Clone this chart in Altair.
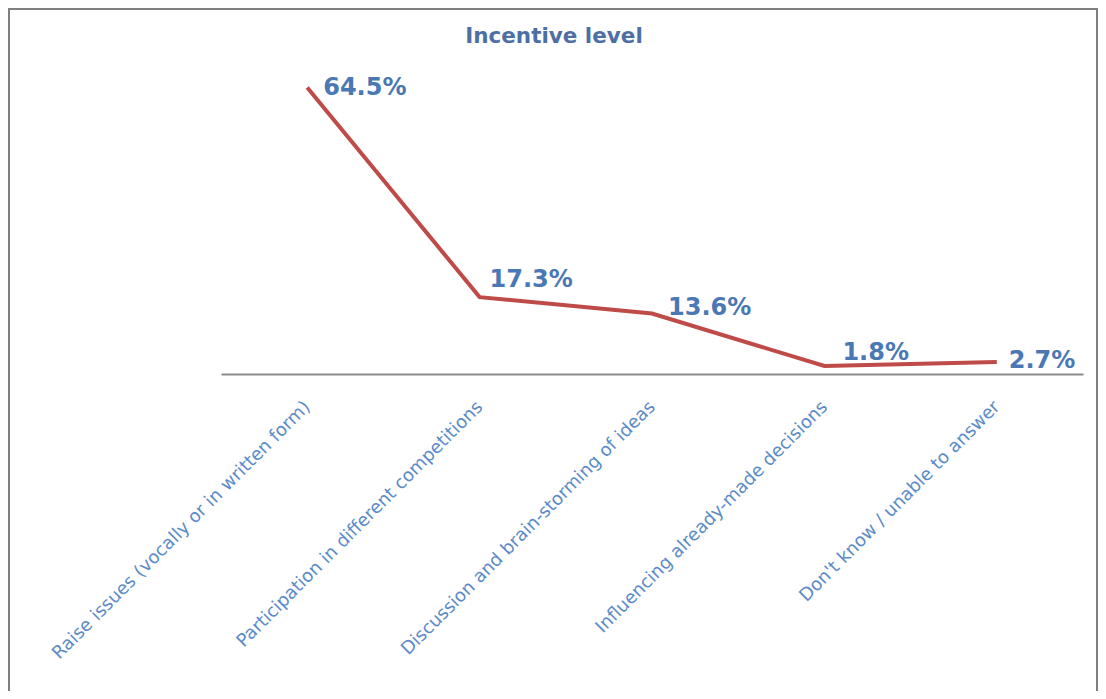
import altair as alt
import pandas as pd

# ---- data ----
categories = [
    "Raise issues (vocally or in written form)",
    "Participation in different competitions",
    "Discussion and brain-storming of ideas",
    "Influencing already-made decisions",
    "Don't know / unable to answer",
]
values = [64.5, 17.3, 13.6, 1.8, 2.7]
value_labels = ["64.5%", "17.3%", "13.6%", "1.8%", "2.7%"]
chart_title = "Incentive level"

df = pd.DataFrame({"category": categories, "value": values, "label": value_labels})

LINE_COLOR = "#BE4B48"
LABEL_COLOR = "#4A78B5"
AXIS_LABEL_COLOR = "#5B8BC8"
TITLE_COLOR = "#4D6FA3"
FONT = "DejaVu Sans"

x_enc = alt.X(
    "category:N",
    sort=categories,
    axis=alt.Axis(
        title=None,
        labelAngle=-45,
        labelAlign="right",
        labelBaseline="middle",
        labelFont=FONT,
        labelFontSize=18,
        labelColor=AXIS_LABEL_COLOR,
        labelPadding=30,
        labelLimit=1000,
        labelOverlap=False,
        ticks=False,
        grid=False,
        domainColor="#8C8C8C",
        domainWidth=2,
    ),
)
y_enc = alt.Y("value:Q", scale=alt.Scale(domain=[0, 70]), axis=None)

base = alt.Chart(df)

line = base.mark_line(color=LINE_COLOR, strokeWidth=4).encode(x=x_enc, y=y_enc)

# per-label offsets (label placement as in the original)
offsets = [(16, 1), (10, -17), (16, -6), (18, -13), (12, -1)]
label_layers = []
for cat, (ddx, ddy) in zip(categories, offsets):
    label_layers.append(
        base.transform_filter(alt.datum.category == cat)
        .mark_text(
            align="left",
            baseline="middle",
            dx=ddx,
            dy=ddy,
            font=FONT,
            fontSize=24,
            fontWeight="bold",
            color=LABEL_COLOR,
        )
        .encode(x=x_enc, y=y_enc, text="label:N")
    )

title_df = pd.DataFrame({"t": [chart_title]})
title = alt.Chart(title_df).mark_text(
    align="center",
    baseline="middle",
    font=FONT,
    fontSize=21.5,
    fontWeight="bold",
    color=TITLE_COLOR,
).encode(x=alt.value(333), y=alt.value(-26), text="t:N")

frame = alt.Chart(title_df).mark_rect(
    fillOpacity=0, stroke="#7F7F7F", strokeWidth=2
).encode(x=alt.value(-212), x2=alt.value(876), y=alt.value(-54), y2=alt.value(660))

chart = (
    alt.layer(frame, line, *label_layers, title)
    .properties(
        width=862,
        height=311,
        autosize=alt.AutoSizeParams(type="none"),
        padding={"left": 213, "top": 55, "right": 15, "bottom": 317},
    )
    .configure_view(stroke=None)
)

chart.save("out.html", embed_options={"renderer": "svg", "actions": False})
